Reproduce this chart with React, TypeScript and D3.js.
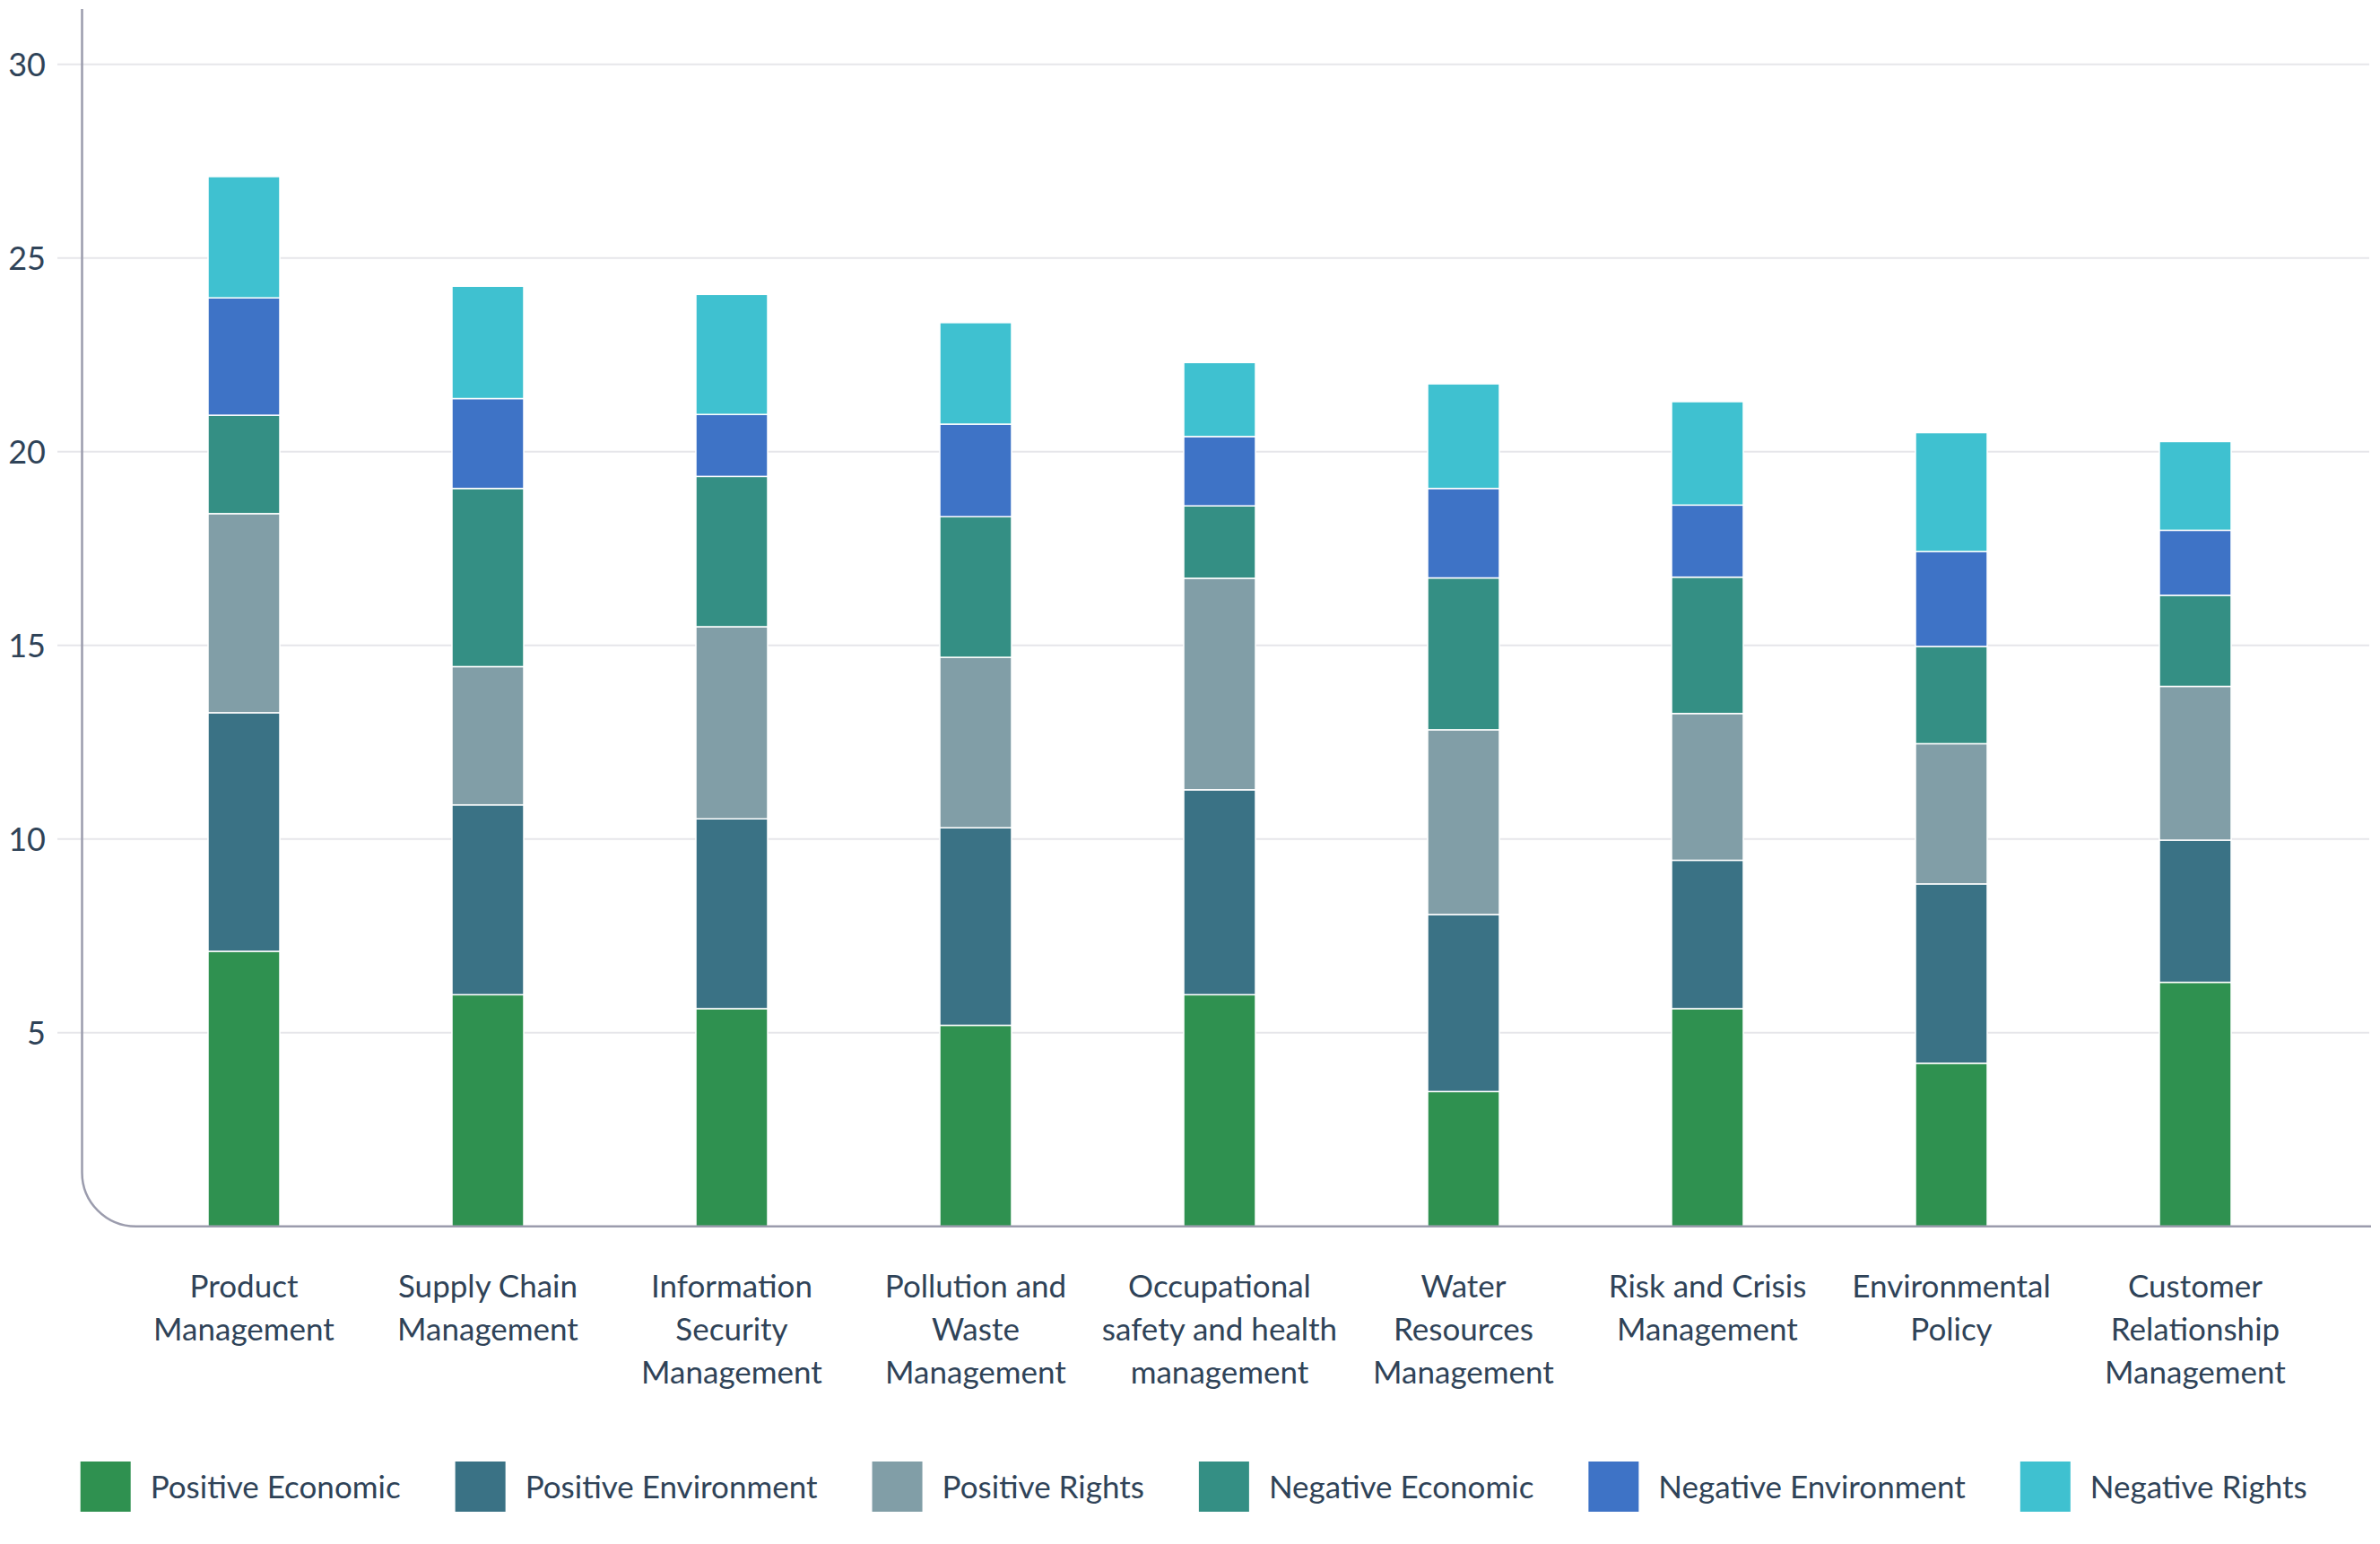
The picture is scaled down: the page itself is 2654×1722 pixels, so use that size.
import React from "react";
import * as d3 from "d3";

const categories = [
  "Product\nManagement",
  "Supply Chain\nManagement",
  "Information\nSecurity\nManagement",
  "Pollution and\nWaste\nManagement",
  "Occupational\nsafety and health\nmanagement",
  "Water\nResources\nManagement",
  "Risk and Crisis\nManagement",
  "Environmental\nPolicy",
  "Customer\nRelationship\nManagement",
];

const seriesNames = [
  "Positive Economic",
  "Positive Environment",
  "Positive Rights",
  "Negative Economic",
  "Negative Environment",
  "Negative Rights",
];

const positiveEconomic = [7.1, 5.98, 5.62, 5.19, 5.98, 3.48, 5.62, 4.21, 6.3];
const positiveEnvironment = [6.16, 4.9, 4.9, 5.1, 5.29, 4.57, 3.83, 4.63, 3.67];
const positiveRights = [5.14, 3.57, 4.96, 4.4, 5.46, 4.77, 3.79, 3.62, 3.97];
const negativeEconomic = [2.54, 4.6, 3.88, 3.63, 1.87, 3.92, 3.52, 2.51, 2.35];
const negativeEnvironment = [3.03, 2.32, 1.6, 2.39, 1.79, 2.31, 1.86, 2.45, 1.68];
const negativeRights = [3.13, 2.9, 3.1, 2.62, 1.91, 2.7, 2.67, 3.07, 2.29];

const yTicks = [5, 10, 15, 20, 25, 30];

const colors = ["#2f9150", "#3a7285", "#819ea7", "#348f84", "#3e73c6", "#3fc1d0"];

const W = 2654;
const H = 1722;
const FONT = "Lato, 'Open Sans', sans-serif";
const TEXT = "#2f4358";

const seriesValues = [
  positiveEconomic,
  positiveEnvironment,
  positiveRights,
  negativeEconomic,
  negativeEnvironment,
  negativeRights,
];

const table = categories.map((c, i) => {
  const row: Record<string, any> = { category: c };
  seriesNames.forEach((s, j) => (row[s] = seriesValues[j][i]));
  return row;
});

function measure(text: string, font: string) {
  if (typeof document === "undefined") return text.length * 17;
  const canvas = document.createElement("canvas");
  const ctx = canvas.getContext("2d");
  if (!ctx) return text.length * 17;
  ctx.font = font;
  return ctx.measureText(text).width;
}

export default function App() {
  const axisX = 91.5;
  const axisBottom = 1367.7;
  const right = 2644;
  const radius = 60;

  const x = d3.scalePoint<string>().domain(categories).range([272, 2448]).padding(0);
  const y = d3.scaleLinear().domain([0, 30]).range([axisBottom, 71.7]);
  const barW = 80;

  const stack = d3.stack<any>().keys(seriesNames);
  const stacked = stack(table);

  const axisPath = d3.path();
  axisPath.moveTo(axisX, 10);
  axisPath.lineTo(axisX, axisBottom - radius);
  axisPath.arcTo(axisX, axisBottom, axisX + radius, axisBottom, radius);
  axisPath.lineTo(right, axisBottom);

  const legendFontSize = 35;
  const legendFont = `${legendFontSize}px Lato`;
  const sw = 56;
  let cursor = 89.7;
  const legendItems = seriesNames.map((name, i) => {
    const x0 = cursor;
    const tw = measure(name, legendFont);
    cursor += sw + 22 + tw + 61;
    return { name, x0, color: colors[i] };
  });

  return (
    <svg
      width={W}
      height={H}
      viewBox={`0 0 ${W} ${H}`}
      style={{ position: "absolute", left: 0, top: 0, background: "#fff", display: "block" }}
    >
      <rect x={0} y={0} width={W} height={H} fill="#fff" />
      <g>
        {yTicks.map((t) => (
          <line
            key={t}
            x1={64}
            x2={2642}
            y1={y(t)}
            y2={y(t)}
            stroke="#e6e6ea"
            strokeWidth={2}
          />
        ))}
      </g>
      <g fontFamily={FONT} fontSize={36} fill={TEXT} textAnchor="end">
        {yTicks.map((t) => (
          <text key={t} x={51} y={y(t)} dy="0.36em">
            {t}
          </text>
        ))}
      </g>
      <g>
        {stacked.map((layer, li) => (
          <g key={layer.key} fill={colors[li]}>
            {layer.map((d, i) => (
              <rect
                key={i}
                x={(x(categories[i]) as number) - barW / 2}
                y={y(d[1])}
                width={barW}
                height={y(d[0]) - y(d[1])}
                stroke="#ffffff"
                strokeWidth={1.5}
              />
            ))}
          </g>
        ))}
      </g>
      <path d={axisPath.toString()} fill="none" stroke="#9b9cad" strokeWidth={2.5} />
      <g fontFamily={FONT} fontSize={35} fill={TEXT} textAnchor="middle">
        {categories.map((c) => (
          <text key={c} x={x(c)} y={1447}>
            {c.split("\n").map((line, k) => (
              <tspan key={k} x={x(c)} y={1447 + k * 48}>
                {line}
              </tspan>
            ))}
          </text>
        ))}
      </g>
      <g fontFamily={FONT} fontSize={legendFontSize} fill={TEXT}>
        {legendItems.map((it) => (
          <g key={it.name}>
            <rect x={it.x0} y={1630} width={sw} height={sw} fill={it.color} />
            <text x={it.x0 + sw + 22} y={1671}>
              {it.name}
            </text>
          </g>
        ))}
      </g>
    </svg>
  );
}
